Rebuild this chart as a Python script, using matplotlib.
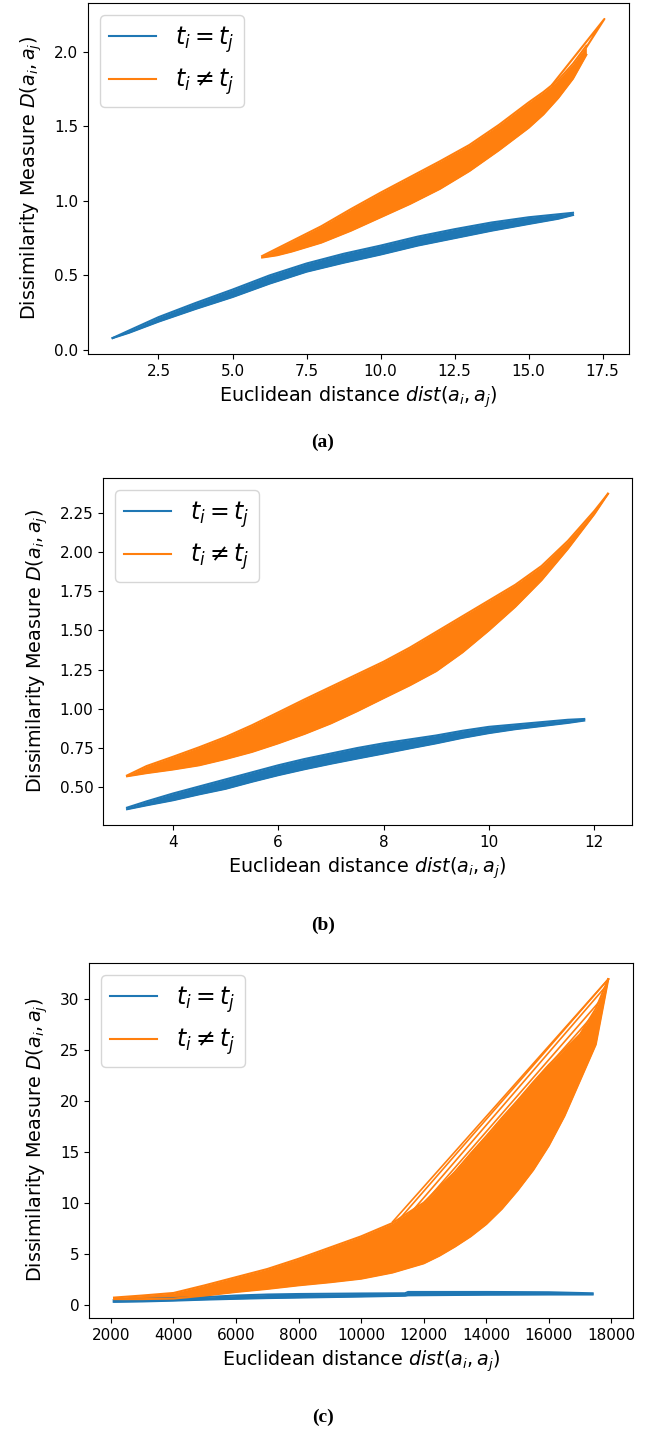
import numpy as np
import matplotlib
matplotlib.use('Agg')
from matplotlib import pyplot as plt

BLUE = '#1f77b4'
ORANGE = '#ff7f0e'

# ---- panel (a) ----
blue_a_x = [0.95, 1.5, 2.5, 3.75, 5.0, 6.25, 7.5, 8.75, 10.0, 11.25, 12.5, 13.75, 15.0, 16.0, 16.5]
blue_a_lo = [0.08, 0.115, 0.19, 0.275, 0.355, 0.445, 0.525, 0.585, 0.64, 0.70, 0.75, 0.80, 0.845, 0.88, 0.905]
blue_a_hi = [0.08, 0.13, 0.22, 0.315, 0.405, 0.50, 0.58, 0.645, 0.70, 0.76, 0.81, 0.855, 0.89, 0.91, 0.92]

orange_a_x = [6.0, 6.5, 7.0, 7.5, 8.0, 9.0, 10.0, 11.0, 12.0, 13.0, 14.0, 15.0, 15.5, 16.0, 16.5, 16.95]
orange_a_lo = [0.62, 0.635, 0.66, 0.69, 0.72, 0.80, 0.89, 0.98, 1.08, 1.20, 1.34, 1.49, 1.58, 1.69, 1.82, 1.98]
orange_a_hi = [0.63, 0.68, 0.73, 0.78, 0.83, 0.945, 1.055, 1.16, 1.265, 1.375, 1.51, 1.66, 1.73, 1.81, 1.92, 2.04]
strand_a_x = [15.8, 17.56, 16.95]
strand_a_y = [1.78, 2.22, 2.03]

# ---- panel (b) ----
blue_b_x = [3.13, 3.5, 4.0, 4.5, 5.0, 5.5, 6.0, 6.5, 7.0, 7.5, 8.0, 8.5, 9.0, 9.5, 10.0, 10.5, 11.0, 11.5, 11.81]
blue_b_lo = [0.36, 0.385, 0.417, 0.455, 0.49, 0.535, 0.577, 0.615, 0.65, 0.683, 0.715, 0.748, 0.78, 0.815,
             0.845, 0.87, 0.89, 0.91, 0.925]
blue_b_hi = [0.37, 0.41, 0.46, 0.505, 0.55, 0.595, 0.64, 0.68, 0.715, 0.75, 0.78, 0.805, 0.83, 0.86,
             0.885, 0.90, 0.915, 0.93, 0.935]

orange_b_x = [3.13, 3.5, 4.0, 4.5, 5.0, 5.5, 6.0, 6.5, 7.0, 7.5, 8.0, 8.5, 9.0, 9.5, 10.0, 10.5, 11.0,
              11.5, 12.0, 12.26]
orange_b_lo = [0.57, 0.59, 0.613, 0.64, 0.68, 0.725, 0.78, 0.84, 0.907, 0.985, 1.068, 1.15, 1.24, 1.36,
               1.50, 1.65, 1.82, 2.02, 2.24, 2.37]
orange_b_hi = [0.575, 0.635, 0.694, 0.755, 0.82, 0.895, 0.977, 1.06, 1.14, 1.22, 1.30, 1.39, 1.49, 1.59,
               1.69, 1.79, 1.91, 2.07, 2.26, 2.37]

# ---- panel (c) ----
blue_c_x = [2090, 3000, 4000, 5000, 6000, 7000, 8000, 10000, 11400, 11500, 14000, 16000, 17400]
blue_c_lo = [0.28, 0.32, 0.40, 0.50, 0.58, 0.65, 0.70, 0.80, 0.88, 0.92, 0.98, 1.00, 1.00]
blue_c_hi = [0.45, 0.55, 0.65, 0.75, 0.90, 1.00, 1.05, 1.10, 1.12, 1.25, 1.25, 1.22, 1.12]

orange_c_x = [2100, 3000, 4000, 5000, 6000, 7000, 8000, 9000, 10000, 11000, 12000, 12500, 13000,
              13500, 14000, 14500, 15000, 15500, 16000, 16500, 17000, 17500, 17900]
orange_c_lo = [0.55, 0.55, 0.60, 0.90, 1.25, 1.55, 1.90, 2.20, 2.55, 3.15, 4.05, 4.80, 5.70,
               6.70, 7.90, 9.40, 11.2, 13.2, 15.6, 18.5, 22.0, 25.5, 31.9]
orange_c_hi = [0.70, 0.90, 1.15, 1.90, 2.70, 3.50, 4.50, 5.60, 6.70, 8.00, 10.0, 11.5, 13.0,
               14.8, 16.5, 18.3, 20.0, 21.8, 23.5, 25.0, 26.5, 29.0, 31.9]
# loose strands above the dense part
strands_c = [
    ([11000, 17900], [8.1, 31.9]),
    ([11200, 17900], [8.3, 31.9]),
    ([11500, 17850], [8.7, 31.3]),
    ([11800, 17700], [9.2, 30.0]),
    ([12100, 17600], [9.9, 29.0]),
    ([12400, 17500], [10.6, 28.2]),
    ([12800, 17400], [11.6, 27.0]),
    ([13200, 17300], [12.6, 26.2]),
]

fig = plt.figure(figsize=(6.46, 14.33), dpi=100)
W, H = 646.0, 1433.0

def add_ax(l, r, t, b):
    return fig.add_axes([l / W, 1 - b / H, (r - l) / W, (b - t) / H])

def band(ax, x, lo, hi, color, label):
    ax.fill_between(x, lo, hi, color=color, lw=0)
    ax.plot(x, hi, color=color, lw=1.5, label=label)
    ax.plot(x, lo, color=color, lw=1.5)

def finish(ax):
    ax.set_xlabel('Euclidean distance $dist(a_i, a_j)$', fontsize=13.8)
    ax.set_ylabel('Dissimilarity Measure $D(a_i, a_j)$', fontsize=13.8, labelpad=7)
    ax.tick_params(labelsize=11)
    ax.legend(loc='upper left', fontsize=17, handlelength=2.0)

lab1 = '$t_i = t_j$'
lab2 = '$t_i \\neq t_j$'

ax = add_ax(88, 629, 3, 354)
band(ax, blue_a_x, blue_a_lo, blue_a_hi, BLUE, lab1)
band(ax, orange_a_x, orange_a_lo, orange_a_hi, ORANGE, lab2)
ax.plot(strand_a_x, strand_a_y, color=ORANGE, lw=1.5)
ax.set_xticks([2.5, 5.0, 7.5, 10.0, 12.5, 15.0, 17.5])
finish(ax)

ax = add_ax(103, 632, 478, 825)
band(ax, blue_b_x, blue_b_lo, blue_b_hi, BLUE, lab1)
band(ax, orange_b_x, orange_b_lo, orange_b_hi, ORANGE, lab2)
ax.set_yticks([0.5, 0.75, 1.0, 1.25, 1.5, 1.75, 2.0, 2.25])
finish(ax)

ax = add_ax(89, 633, 963, 1318)
band(ax, blue_c_x, blue_c_lo, blue_c_hi, BLUE, lab1)
band(ax, orange_c_x, orange_c_lo, orange_c_hi, ORANGE, lab2)
for sx, sy in strands_c:
    ax.plot(sx, sy, color=ORANGE, lw=1.2)
ax.set_xticks(range(2000, 18001, 2000))
finish(ax)

for y, s in [(442, '(a)'), (925, '(b)'), (1417, '(c)')]:
    fig.text(0.5, 1 - y / H, s, ha='center', va='center', fontsize=14,
             fontweight='bold', family='Liberation Serif')

fig.savefig('out.png', dpi=100)
